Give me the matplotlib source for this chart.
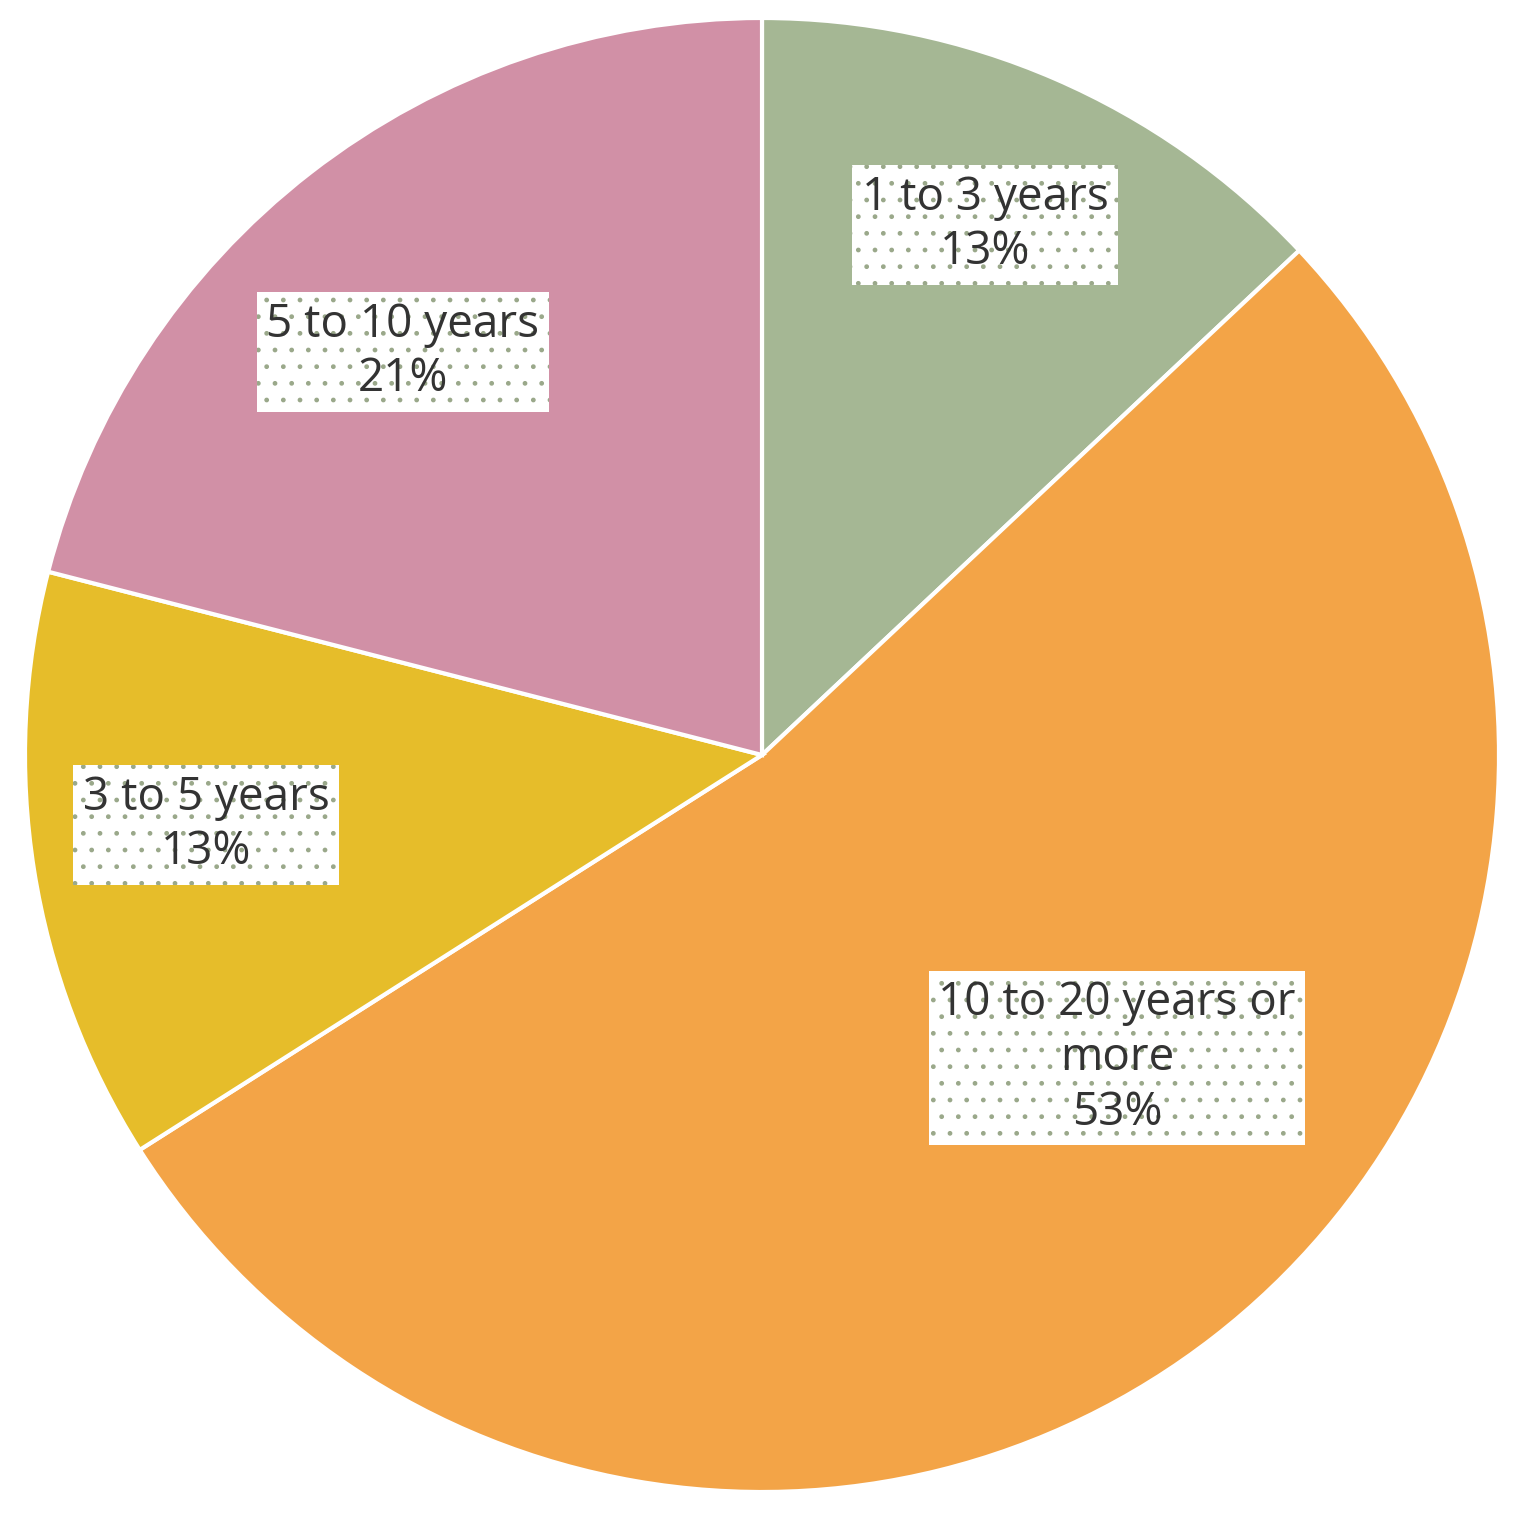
import matplotlib
matplotlib.use("Agg")
import matplotlib.pyplot as plt

labels = ["1 to 3 years", "10 to 20 years or\nmore", "3 to 5 years", "5 to 10 years"]
values = [13, 53, 13, 21]
colors = ["#a5b794", "#f3a447", "#e6bd2a", "#d190a6"]
# label positions in pixel coords (x from left, y from top)
label_px = [(985, 225), (1117, 1058), (206, 825), (403, 352)]

R = 737.0
cx, cy = 762.0, 755.0
fig = plt.figure(figsize=(15.2, 15.2), dpi=100)
ax = fig.add_axes([0, 0, 1, 1])
ax.pie(values, colors=colors, startangle=90, counterclock=False, radius=1,
       wedgeprops=dict(edgecolor="white", linewidth=3))
ax.set_xlim(-cx / R, (1520 - cx) / R)
ax.set_ylim(-(1520 - cy) / R, cy / R)
ax.set_aspect("equal")
ax.axis("off")
for lab, v, (px, py) in zip(labels, values, label_px):
    x = (px - cx) / R
    y = (cy - py) / R
    ax.text(x, y, f"{lab}\n{v}%", ha="center", va="center", fontsize=33,
            family="Open Sans", color="#333333", linespacing=1.25,
            bbox=dict(boxstyle="square,pad=0.2", facecolor="white",
                      edgecolor="#9aa88a", hatch=".", linewidth=0))
fig.savefig("out.png", dpi=100)
